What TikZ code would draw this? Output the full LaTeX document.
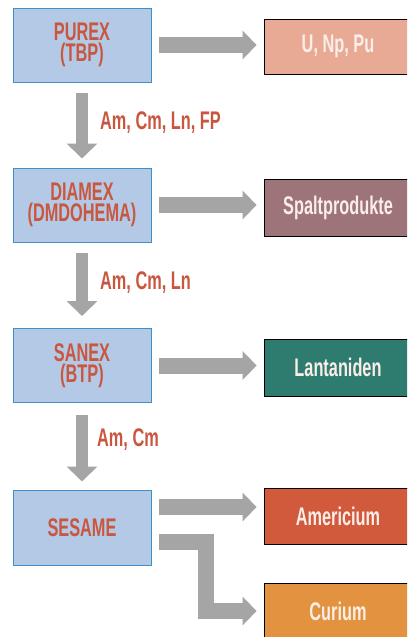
\documentclass[tikz,border=0pt]{standalone}
\usepackage{fontspec}
\newfontfamily\cond{Liberation Sans}[FakeStretch=0.64]
\usetikzlibrary{arrows.meta}
\definecolor{boxblue}{HTML}{B4C9E6}
\definecolor{boxedge}{HTML}{3F8FC9}
\definecolor{txtred}{HTML}{C9573F}
\definecolor{arrowgray}{HTML}{A5A5A5}
\definecolor{cU}{HTML}{E9AA95}
\definecolor{cSp}{HTML}{9C7479}
\definecolor{cLa}{HTML}{2E7B6F}
\definecolor{cAm}{HTML}{D25A3C}
\definecolor{cCu}{HTML}{E3933F}
\definecolor{txtlight}{HTML}{FBEEE8}
\begin{document}
\begin{tikzpicture}[x=1pt,y=-1pt,
  proc/.style={draw=boxedge, line width=1pt, fill=boxblue, minimum width=138pt,
    minimum height=74pt, inner sep=0pt, text=txtred,
    font=\cond\bfseries\fontsize{25.5}{21.5}\selectfont, align=center},
  prod/.style={draw=black, line width=0.8pt, minimum width=148pt,
    minimum height=56pt, inner sep=0pt, text=txtlight,
    font=\cond\bfseries\fontsize{25.5}{21.5}\selectfont},
  flow/.style={draw=arrowgray, line width=16pt, line join=miter,
    -{Triangle[width=28pt,length=14pt]}},
  downflow/.style={draw=arrowgray, line width=12pt,
    -{Triangle[width=30pt,length=15pt]}},
  lbl/.style={text=txtred, font=\cond\bfseries\fontsize{25.5}{21.5}\selectfont,
    anchor=west, inner sep=0pt}]
\clip (0,0) rectangle (407,637);
\fill[white] (0,0) rectangle (407,637);
% process boxes
\node[proc] (purex) at (82,45) {PUREX\\(TBP)};
\node[proc] (diamex) at (82,205) {DIAMEX\\(DMDOHEMA)};
\node[proc] (sanex) at (82,365.5) {SANEX\\(BTP)};
\node[proc, minimum height=75pt] (sesame) at (82,527.5) {SESAME};
% product boxes
\node[prod, fill=cU, minimum height=55pt] (u) at (338,46.5) {U, Np, Pu};
\node[prod, fill=cSp, minimum height=57pt] (sp) at (338,207.5) {Spaltprodukte};
\node[prod, fill=cLa, minimum height=57pt] (la) at (338,367.5) {Lantaniden};
\node[prod, fill=cAm, minimum height=56pt] (am) at (338,516) {Americium};
\node[prod, fill=cCu, minimum height=56pt] (cu) at (338,611) {Curium};
% horizontal flows
\draw[flow] ([xshift=7pt]purex.east) -- ([xshift=-7pt]purex.east -| u.west);
\draw[flow] ([xshift=7pt]diamex.east) -- ([xshift=-7pt]diamex.east -| sp.west);
\draw[flow] ([xshift=7pt]sanex.east) -- ([xshift=-7pt]sanex.east -| la.west);
\coordinate (amstart) at ([xshift=7pt,yshift=20.5pt]sesame.east);
\draw[flow] (amstart) -- ([xshift=-7pt]amstart -| am.west);
\coordinate (custart) at ([xshift=7pt,yshift=-14.5pt]sesame.east);
\coordinate (bend) at (206,542);
\draw[flow] (custart) -- (bend) -- (bend |- cu.west) -- ([xshift=-7pt]cu.west);
% vertical flows
\draw[downflow] ([yshift=-10pt]purex.south) -- ([yshift=9pt]diamex.north);
\draw[downflow] ([yshift=-10pt]diamex.south) -- ([yshift=12pt]sanex.north);
\draw[downflow] ([yshift=-11.5pt]sanex.south) -- ([yshift=8pt]sesame.north);
% labels
\node[lbl] (l1) at (100,123) {Am, Cm, Ln, FP};
\node[lbl] (l2) at (100,283) {Am, Cm, Ln};
\node[lbl] (l3) at (97,440) {Am, Cm};
\end{tikzpicture}
\end{document}
